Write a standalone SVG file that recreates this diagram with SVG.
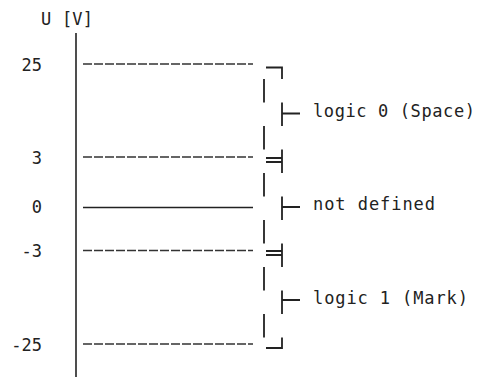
<svg xmlns="http://www.w3.org/2000/svg" width="478" height="380" viewBox="0 0 478 380">
<style>
.t{font-family:"DejaVu Sans Mono","Liberation Mono",monospace;font-size:17px;fill:#222}
.ln{stroke:#222;stroke-width:1.6;fill:none}
.ds{stroke:#333;stroke-width:1.4;stroke-dasharray:9 2;fill:none}
.br{stroke:#222;stroke-width:1.8;fill:none}
</style>
<rect width="478" height="380" fill="#fff"/>
<g id="axis">
<line class="ln" x1="76" y1="33" x2="76" y2="377" stroke-width="2.2"/>
<text class="t" x="41" y="25" textLength="52" lengthAdjust="spacing">U [V]</text>
</g>
<g id="levels">
<line class="ds" x1="83" y1="64" x2="253" y2="64"/>
<line class="ds" x1="83" y1="157" x2="253" y2="157"/>
<line class="ln" x1="83" y1="207.5" x2="253" y2="207.5" stroke-width="1.4"/>
<line class="ds" x1="83" y1="250.5" x2="253" y2="250.5"/>
<line class="ds" x1="83" y1="344" x2="253" y2="344"/>
<text class="t" x="42" y="71" text-anchor="end">25</text>
<text class="t" x="42" y="164" text-anchor="end">3</text>
<text class="t" x="42" y="213" text-anchor="end">0</text>
<text class="t" x="42" y="257" text-anchor="end">-3</text>
<text class="t" x="42" y="351" text-anchor="end">-25</text>
</g>
<g id="connectors">
<path class="br" d="M266 67.5H282V79"/>
<path class="br" d="M264 79V102.5M264 126V149.5M264 173V196.5M264 220V243.5M264 267V290.5M264 314V337.5"/>
<path class="br" d="M282 102.5V126M282 113.5H300"/>
<path class="br" d="M282 149.5V173M266 158H282M266 162H282"/>
<path class="br" d="M282 196.5V220M282 207H300"/>
<path class="br" d="M282 243.5V267M266 251H282M266 255H282"/>
<path class="br" d="M282 290.5V314M282 300H300"/>
<path class="br" d="M282 337.5V348H266"/>
</g>
<g id="logic0"><text class="t" x="313" y="117" textLength="162" lengthAdjust="spacing">logic 0 (Space)</text></g>
<g id="undefined"><text class="t" x="313" y="210" textLength="122" lengthAdjust="spacing">not defined</text></g>
<g id="logic1"><text class="t" x="313" y="304" textLength="155" lengthAdjust="spacing">logic 1 (Mark)</text></g>
</svg>
